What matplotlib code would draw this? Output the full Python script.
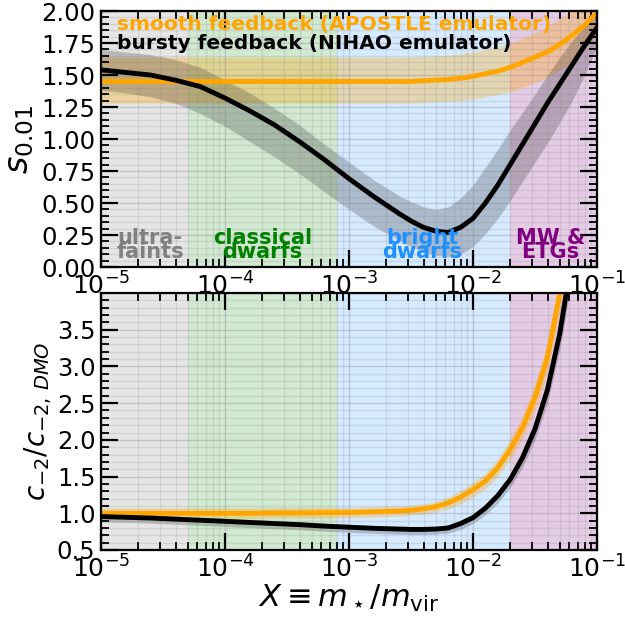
import numpy as np
import matplotlib
matplotlib.use("Agg")
import matplotlib.pyplot as plt
from matplotlib.ticker import MultipleLocator, LogLocator, NullFormatter

# stellar-to-halo mass ratio grid (log10 X)
logX = [-5.0, -4.8, -4.6, -4.4, -4.2, -4.0, -3.8, -3.6, -3.4, -3.2, -3.0,
        -2.8, -2.6, -2.5, -2.4, -2.3, -2.2, -2.1, -2.0, -1.9, -1.8, -1.7,
        -1.6, -1.5, -1.4, -1.3, -1.2, -1.1, -1.0]

# inner slope s_0.01, NIHAO (bursty) emulator: median and band
s_nihao = [1.54, 1.52, 1.50, 1.46, 1.41, 1.32, 1.22, 1.11, 0.98, 0.84, 0.69,
           0.55, 0.42, 0.36, 0.31, 0.28, 0.27, 0.31, 0.38, 0.50, 0.64, 0.80,
           0.96, 1.12, 1.28, 1.43, 1.58, 1.73, 1.87]
s_nihao_hi = [1.70, 1.68, 1.66, 1.62, 1.56, 1.46, 1.36, 1.24, 1.11, 0.96, 0.82,
              0.68, 0.56, 0.51, 0.47, 0.45, 0.47, 0.54, 0.64, 0.78, 0.92, 1.07,
              1.21, 1.35, 1.50, 1.64, 1.77, 1.88, 1.97]
s_nihao_lo = [1.38, 1.36, 1.33, 1.28, 1.20, 1.10, 0.98, 0.86, 0.73, 0.59, 0.45,
              0.32, 0.21, 0.16, 0.12, 0.09, 0.08, 0.10, 0.16, 0.26, 0.38, 0.52,
              0.67, 0.82, 0.97, 1.13, 1.30, 1.50, 1.72]

# inner slope s_0.01, APOSTLE (smooth) emulator
s_apostle = [1.45, 1.45, 1.45, 1.45, 1.45, 1.45, 1.45, 1.45, 1.45, 1.45, 1.45,
             1.45, 1.45, 1.45, 1.455, 1.46, 1.465, 1.475, 1.49, 1.51, 1.53, 1.56,
             1.60, 1.64, 1.68, 1.74, 1.81, 1.89, 1.99]
s_apostle_hi = [1.64, 1.64, 1.64, 1.64, 1.64, 1.64, 1.64, 1.64, 1.64, 1.64, 1.64,
                1.64, 1.64, 1.64, 1.645, 1.65, 1.655, 1.665, 1.68, 1.70, 1.72, 1.75,
                1.79, 1.83, 1.88, 1.94, 2.01, 2.09, 2.18]
s_apostle_lo = [1.28, 1.28, 1.28, 1.28, 1.28, 1.28, 1.28, 1.28, 1.28, 1.28, 1.28,
                1.28, 1.28, 1.28, 1.285, 1.29, 1.295, 1.30, 1.31, 1.33, 1.35, 1.37,
                1.40, 1.44, 1.48, 1.54, 1.61, 1.70, 1.82]

# concentration ratio c_-2 / c_-2,DMO
c_nihao = [0.955, 0.945, 0.935, 0.92, 0.905, 0.89, 0.875, 0.86, 0.845, 0.825, 0.81,
           0.795, 0.785, 0.78, 0.78, 0.785, 0.80, 0.86, 0.94, 1.07, 1.24, 1.46,
           1.76, 2.15, 2.68, 3.45, 4.5, 5.8, 7.4]
c_nihao_hi = [0.995, 0.985, 0.975, 0.96, 0.945, 0.93, 0.915, 0.90, 0.885, 0.865, 0.85,
              0.835, 0.825, 0.82, 0.82, 0.825, 0.84, 0.90, 0.99, 1.12, 1.30, 1.53,
              1.85, 2.26, 2.82, 3.62, 4.7, 6.1, 7.8]
c_nihao_lo = [0.885, 0.875, 0.865, 0.85, 0.835, 0.82, 0.805, 0.79, 0.775, 0.755, 0.74,
              0.725, 0.715, 0.71, 0.71, 0.715, 0.73, 0.78, 0.86, 0.98, 1.14, 1.35,
              1.63, 2.00, 2.50, 3.23, 4.2, 5.4, 6.9]

c_apostle = [1.00, 1.00, 1.00, 1.00, 1.00, 1.00, 1.00, 1.005, 1.005, 1.01, 1.01,
             1.02, 1.03, 1.04, 1.06, 1.09, 1.14, 1.22, 1.32, 1.44, 1.62, 1.87,
             2.17, 2.58, 3.12, 4.0, 5.0, 6.2, 7.6]
c_apostle_hi = [1.07, 1.07, 1.07, 1.07, 1.07, 1.07, 1.07, 1.075, 1.075, 1.08, 1.08,
                1.09, 1.10, 1.11, 1.13, 1.16, 1.22, 1.31, 1.42, 1.55, 1.74, 2.01,
                2.32, 2.76, 3.32, 4.25, 5.3, 6.6, 8.0]
c_apostle_lo = [0.93, 0.93, 0.93, 0.93, 0.93, 0.93, 0.93, 0.935, 0.935, 0.94, 0.94,
                0.95, 0.96, 0.97, 0.99, 1.02, 1.06, 1.13, 1.22, 1.33, 1.50, 1.73,
                2.02, 2.40, 2.92, 3.75, 4.7, 5.8, 7.2]

# galaxy classes shaded along X
class_edges = [1e-5, 5e-5, 8e-4, 2e-2, 1e-1]
class_names = ["ultra-\nfaints", "classical\ndwarfs", "bright\ndwarfs", "MW &\nETGs"]
class_colors = ["gray", "green", "dodgerblue", "purple"]
class_alpha = [0.2, 0.18, 0.18, 0.2]
class_label_x = [2.5e-5, 2.0e-4, 3.9e-3, 4.2e-2]

plt.rcParams.update({
    "font.size": 17,
    "axes.linewidth": 1.6,
    "xtick.direction": "in", "ytick.direction": "in",
    "xtick.top": True, "ytick.right": True,
    "xtick.major.size": 12, "ytick.major.size": 12,
    "xtick.minor.size": 6, "ytick.minor.size": 6,
    "xtick.major.width": 1.6, "ytick.major.width": 1.6,
    "xtick.minor.width": 1.3, "ytick.minor.width": 1.3,
    "xtick.labelsize": 18, "ytick.labelsize": 17.5,
    "xtick.major.pad": 4, "ytick.major.pad": 4,
})

X = 10.0 ** np.array(logX)

fig = plt.figure(figsize=(6.25, 6.23), dpi=100)
ax1 = fig.add_axes([0.1616, 0.5714, 0.7936, 0.4109])
ax2 = fig.add_axes([0.1616, 0.1172, 0.7936, 0.4125])


def decorate(ax):
    ax.set_xscale("log")
    ax.set_xlim(1e-5, 1e-1)
    for i in range(len(class_names)):
        ax.axvspan(class_edges[i], class_edges[i + 1], color=class_colors[i],
                   alpha=class_alpha[i], lw=0, zorder=0)
    ax.xaxis.set_major_locator(LogLocator(base=10, numticks=10))
    ax.xaxis.set_minor_locator(LogLocator(base=10, subs=np.arange(2, 10), numticks=20))
    ax.xaxis.set_minor_formatter(NullFormatter())
    ax.grid(True, which="major", color="gray", alpha=0.32, lw=1.0)
    ax.grid(True, which="minor", color="gray", alpha=0.18, lw=1.0)


# top panel: inner slope
decorate(ax1)
ax1.fill_between(X, s_apostle_lo, s_apostle_hi, color="orange", alpha=0.3, lw=0)
ax1.fill_between(X, s_nihao_lo, s_nihao_hi, color="k", alpha=0.2, lw=0)
ax1.plot(X, s_apostle, color="orange", lw=3.5)
ax1.plot(X, s_nihao, color="k", lw=3.5)
ax1.set_ylim(0, 2)
ax1.yaxis.set_major_locator(MultipleLocator(0.25))
ax1.yaxis.set_minor_locator(MultipleLocator(0.05))
ax1.set_ylabel(r"$s_{0.01}$", fontsize=24, labelpad=4)

ax1.text(0.032, 0.948, "smooth feedback (APOSTLE emulator)", color="orange",
         fontsize=14.5, fontweight="bold", transform=ax1.transAxes, va="center")
ax1.text(0.032, 0.872, "bursty feedback (NIHAO emulator)", color="k",
         fontsize=14.5, fontweight="bold", transform=ax1.transAxes, va="center")

trans = ax1.get_xaxis_transform()
for name, xc, col in zip(class_names, class_label_x, class_colors):
    ax1.text(xc, 0.085, name, color=col, fontsize=15, fontweight="bold",
             ha="center", va="center", linespacing=0.65, transform=trans)

# bottom panel: concentration ratio
decorate(ax2)
ax2.fill_between(X, c_apostle_lo, c_apostle_hi, color="orange", alpha=0.3, lw=0)
ax2.fill_between(X, c_nihao_lo, c_nihao_hi, color="k", alpha=0.2, lw=0)
ax2.plot(X, c_apostle, color="orange", lw=3.5)
ax2.plot(X, c_nihao, color="k", lw=3.5)
ax2.set_ylim(0.5, 4.0)
ax2.set_yticks([0.5, 1.0, 1.5, 2.0, 2.5, 3.0, 3.5])
ax2.yaxis.set_minor_locator(MultipleLocator(0.1))
ax2.set_ylabel(r"$c_{-2}/c_{-2,\,DMO}$", fontsize=20, labelpad=2)
ax2.set_xlabel(r"$X \equiv m_\star/m_{\rm vir}$", fontsize=22, labelpad=0)

fig.savefig("out.png", dpi=100)
